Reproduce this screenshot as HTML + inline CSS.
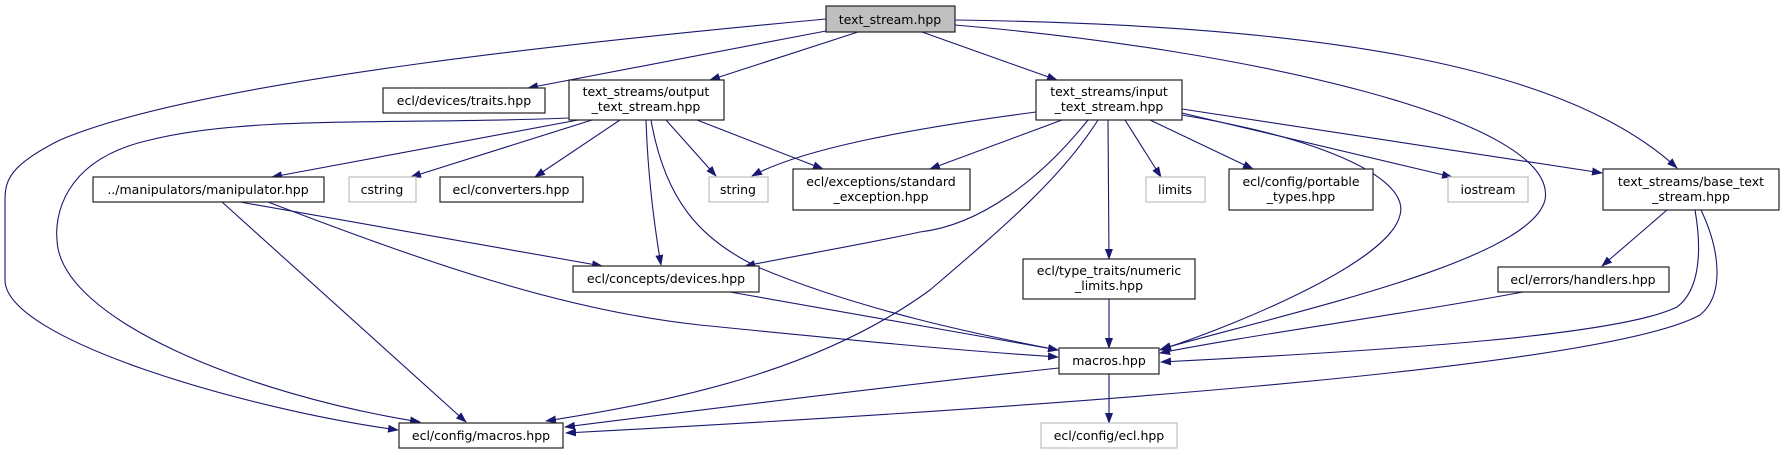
<!DOCTYPE html>
<html><head><meta charset="utf-8"><style>
html,body{margin:0;padding:0;background:#fff;}
svg{display:block;}
text{font-family:"DejaVu Sans","Liberation Sans",sans-serif;font-size:12.5px;fill:#000;text-anchor:middle;}
.e{fill:none;stroke:#191970;stroke-width:1.1;marker-end:url(#a);}
.n{fill:#fff;stroke:#222;stroke-width:1.2;}
.g{fill:#fff;stroke:#bfbfbf;stroke-width:1.2;}
</style></head><body>
<svg width="1784" height="455" viewBox="0 0 1784 455" xmlns="http://www.w3.org/2000/svg">
<defs><marker id="a" markerWidth="11" markerHeight="8" refX="10" refY="4" orient="auto" markerUnits="userSpaceOnUse"><path d="M0,0 L11,4 L0,8 z" fill="#191970"/></marker></defs>

<path class="e" d="M826,19 C600,40 200,80 60,140 C10,165 5,180 5,200 L5,280 C5,340 250,410 398,430"/>
<path class="e" d="M826,31 L528,88"/>
<path class="e" d="M858,32 L710,80"/>
<path class="e" d="M922,32 L1057,80"/>
<path class="e" d="M955,25 C1250,50 1560,120 1545,200 C1530,260 1300,310 1161,349"/>
<path class="e" d="M955,20 C1300,25 1560,60 1677,168"/>

<path class="e" d="M578,120 L272,177"/>
<path class="e" d="M592,120 L411,177"/>
<path class="e" d="M620,120 L535,177"/>
<path class="e" d="M666,120 L716,176"/>
<path class="e" d="M697,120 L823,169"/>
<path class="e" d="M646,120 C648,180 655,230 661,265"/>
<path class="e" d="M651,120 C665,200 700,240 760,268 C860,310 980,335 1058,350"/>
<path class="e" d="M569,118 C400,125 250,115 150,140 C60,160 55,220 57,240 C60,320 250,395 420,422"/>

<path class="e" d="M222,202 L466,422"/>
<path class="e" d="M240,202 L602,266"/>
<path class="e" d="M268,202 C420,260 560,310 700,325 C850,340 950,350 1058,357"/>

<path class="e" d="M1036,112 C900,130 800,150 752,176"/>
<path class="e" d="M1062,120 L930,169"/>
<path class="e" d="M1088,120 C1040,180 980,225 920,232 C860,245 800,255 745,266"/>
<path class="e" d="M1098,120 C1060,180 1000,230 930,290 C820,370 680,400 546,421"/>
<path class="e" d="M1108,120 L1109,259"/>
<path class="e" d="M1125,120 L1161,177"/>
<path class="e" d="M1150,120 L1253,169"/>
<path class="e" d="M1182,113 L1452,177"/>
<path class="e" d="M1182,109 L1602,173"/>
<path class="e" d="M1182,115 C1330,140 1410,180 1400,215 C1390,260 1250,320 1160,350"/>

<path class="e" d="M1109,299 L1109,348"/>
<path class="e" d="M1109,374 L1109,423"/>
<path class="e" d="M1059,368 C900,385 700,410 565,427"/>
<path class="e" d="M730,292 L1058,350"/>
<path class="e" d="M1523,292 C1400,315 1250,335 1160,353"/>
<path class="e" d="M1667,210 L1602,266"/>
<path class="e" d="M1695,210 C1702,250 1700,290 1677,307 C1620,335 1400,350 1161,362"/>
<path class="e" d="M1701,210 C1720,250 1725,295 1700,315 C1600,370 1000,410 566,433"/>

<rect x="826" y="6" width="129" height="26" fill="#bfbfbf" stroke="#222" stroke-width="1.2"/>
<text x="890" y="24">text_stream.hpp</text>

<rect class="n" x="383" y="88" width="162" height="25"/><text x="464" y="105">ecl/devices/traits.hpp</text>
<rect class="n" x="569" y="80" width="155" height="40"/><text x="646" y="96">text_streams/output</text><text x="646" y="111">_text_stream.hpp</text>
<rect class="n" x="1036" y="80" width="146" height="40"/><text x="1109" y="96">text_streams/input</text><text x="1109" y="111">_text_stream.hpp</text>

<rect class="n" x="93" y="177" width="231" height="25"/><text x="208" y="194">../manipulators/manipulator.hpp</text>
<rect class="g" x="349" y="177" width="67" height="25"/><text x="382" y="194">cstring</text>
<rect class="n" x="440" y="177" width="143" height="25"/><text x="511" y="194">ecl/converters.hpp</text>
<rect class="g" x="709" y="177" width="59" height="25"/><text x="738" y="194">string</text>
<rect class="n" x="793" y="169" width="177" height="41"/><text x="881" y="186">ecl/exceptions/standard</text><text x="881" y="201">_exception.hpp</text>
<rect class="g" x="1146" y="177" width="59" height="25"/><text x="1175" y="194">limits</text>
<rect class="n" x="1229" y="169" width="144" height="41"/><text x="1301" y="186">ecl/config/portable</text><text x="1301" y="201">_types.hpp</text>
<rect class="g" x="1448" y="177" width="80" height="25"/><text x="1488" y="194">iostream</text>
<rect class="n" x="1603" y="169" width="176" height="41"/><text x="1691" y="186">text_streams/base_text</text><text x="1691" y="201">_stream.hpp</text>

<rect class="n" x="573" y="266" width="186" height="26"/><text x="666" y="283">ecl/concepts/devices.hpp</text>
<rect class="n" x="1023" y="259" width="172" height="40"/><text x="1109" y="275">ecl/type_traits/numeric</text><text x="1109" y="290">_limits.hpp</text>
<rect class="n" x="1498" y="267" width="171" height="25"/><text x="1583" y="284">ecl/errors/handlers.hpp</text>
<rect class="n" x="1059" y="348" width="100" height="26"/><text x="1109" y="365">macros.hpp</text>
<rect class="n" x="399" y="423" width="164" height="25"/><text x="481" y="440">ecl/config/macros.hpp</text>
<rect class="g" x="1041" y="423" width="136" height="25"/><text x="1109" y="440">ecl/config/ecl.hpp</text>
</svg>
</body></html>
